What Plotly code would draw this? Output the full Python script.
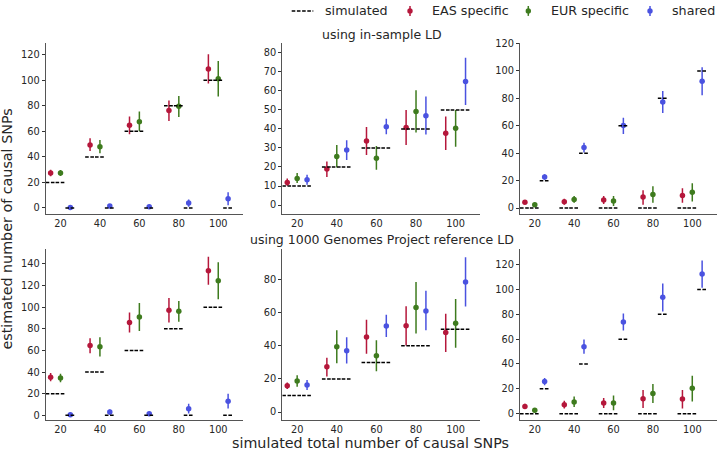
import plotly.graph_objects as go

# ---------------- data ----------------
totals = [20, 40, 60, 80, 100]
xtick_vals = [20, 40, 60, 80, 100]

# simulated truth per column (EAS specific, EUR specific, shared)
sim_c1_eas = [20, 40, 60, 80, 100]
sim_c1_eur = [20, 40, 60, 80, 100]
sim_c1_shared = [0, 0, 0, 0, 0]
sim_c2_eas = [10, 20, 30, 40, 50]
sim_c2_eur = [10, 20, 30, 40, 50]
sim_c2_shared = [10, 20, 30, 40, 50]
sim_c3_eas = [0, 0, 0, 0, 0]
sim_c3_eur = [0, 0, 0, 0, 0]
sim_c3_shared = [20, 40, 60, 80, 100]

# using in-sample LD
ins1_eas = [27.4, 49.3, 64.8, 76.4, 108.9]
ins1_eas_lo = [24.8, 44.6, 57.8, 68.1, 97.5]
ins1_eas_hi = [30.0, 54.5, 71.7, 84.1, 120.3]
ins1_eur = [27.4, 48.0, 67.6, 79.7, 101.2]
ins1_eur_lo = [25.0, 42.8, 60.1, 71.2, 87.2]
ins1_eur_hi = [29.8, 53.2, 75.6, 87.7, 115.1]
ins1_sh = [0.3, 1.5, 1.0, 3.9, 7.2]
ins1_sh_lo = [-1.2, -0.2, -0.5, 1.0, 2.1]
ins1_sh_hi = [1.8, 3.2, 2.5, 6.7, 12.4]

ins2_eas = [11.9, 19.0, 33.6, 40.7, 37.7]
ins2_eas_lo = [10.2, 14.7, 26.3, 31.5, 28.9]
ins2_eas_hi = [13.9, 22.9, 41.0, 50.0, 46.6]
ins2_eur = [14.0, 25.5, 24.6, 49.2, 40.3]
ins2_eur_lo = [11.6, 19.7, 18.5, 38.1, 30.6]
ins2_eur_hi = [16.8, 31.5, 31.0, 60.4, 50.0]
ins2_sh = [13.3, 28.9, 41.2, 46.9, 64.9]
ins2_sh_lo = [10.7, 23.7, 37.2, 37.1, 52.6]
ins2_sh_hi = [15.9, 34.1, 45.4, 57.0, 77.4]

ins3_eas = [4.3, 4.6, 5.8, 8.0, 9.2]
ins3_eas_lo = [2.9, 2.4, 2.9, 2.4, 3.9]
ins3_eas_hi = [5.8, 6.7, 8.7, 13.0, 14.5]
ins3_eur = [2.4, 6.3, 5.1, 9.9, 11.6]
ins3_eur_lo = [1.0, 3.9, 1.4, 3.9, 4.8]
ins3_eur_hi = [3.9, 8.7, 8.7, 15.9, 18.1]
ins3_sh = [22.7, 44.1, 60.2, 77.3, 92.5]
ins3_sh_lo = [20.7, 40.5, 54.0, 69.4, 82.2]
ins3_sh_hi = [24.6, 47.7, 65.8, 85.3, 102.7]

# using 1000 Genomes Project reference LD
ref1_eas = [35.2, 64.5, 85.9, 97.2, 133.6]
ref1_eas_lo = [31.5, 57.5, 76.7, 85.9, 120.8]
ref1_eas_hi = [39.1, 71.2, 95.1, 108.5, 146.7]
ref1_eur = [34.5, 63.3, 90.8, 96.3, 124.4]
ref1_eur_lo = [30.6, 54.4, 78.0, 86.5, 107.3]
ref1_eur_hi = [38.5, 72.1, 103.9, 105.8, 141.5]
ref1_sh = [0.6, 3.1, 1.5, 6.1, 13.1]
ref1_sh_lo = [-1.2, 0.6, -0.3, 1.8, 6.4]
ref1_sh_hi = [2.4, 5.5, 3.3, 10.7, 19.9]

ref2_eas = [15.9, 27.3, 45.4, 52.1, 48.0]
ref2_eas_lo = [13.9, 21.5, 35.2, 40.2, 36.2]
ref2_eas_hi = [17.9, 32.8, 55.7, 63.9, 59.3]
ref2_eur = [18.7, 39.4, 34.0, 63.1, 53.7]
ref2_eur_lo = [15.3, 29.5, 24.7, 47.4, 38.8]
ref2_eur_hi = [22.3, 49.4, 43.4, 78.6, 68.3]
ref2_sh = [16.3, 37.0, 51.9, 61.1, 78.6]
ref2_sh_lo = [13.3, 29.3, 45.4, 49.4, 63.7]
ref2_sh_hi = [19.3, 45.2, 58.7, 73.2, 93.5]

ref3_eas = [5.8, 7.2, 8.5, 11.9, 11.7]
ref3_eas_lo = [3.7, 4.2, 4.5, 4.5, 4.2]
ref3_eas_hi = [8.0, 10.4, 12.5, 19.1, 19.1]
ref3_eur = [2.7, 9.3, 8.5, 16.2, 20.4]
ref3_eur_lo = [1.1, 5.3, 2.7, 8.5, 9.8]
ref3_eur_hi = [4.2, 13.8, 14.6, 23.9, 30.5]
ref3_sh = [25.8, 53.9, 73.8, 93.7, 112.6]
ref3_sh_lo = [22.8, 48.3, 66.9, 82.3, 101.4]
ref3_sh_hi = [28.7, 59.7, 80.7, 104.9, 123.4]

# ---------------- styling ----------------
W, H = 718, 450
C_EAS = "#b5173b"
C_EUR = "#3e7b1e"
C_SH = "#4a52e0"
FONT = "DejaVu Sans"
TXT = "#262626"
DASH = "3.6px,1.6px"


def px(x):
    return x / W


def py(y):
    return 1 - y / H


col_dom = [(45.7, 242.7), (282.3, 480.2), (520.0, 716.7)]
row_dom = [(38.0, 211.7), (246.7, 420.0)]
y_ranges = [[-5.0, 129.5], [-4.9, 85.4], [-4.6, 120.7],
            [-4.6, 153.8], [-5.0, 98.5], [-5.4, 132.7]]
y_dticks = [20, 10, 20, 20, 20, 20]

panels = [
    ((ins1_eas, ins1_eas_lo, ins1_eas_hi), (ins1_eur, ins1_eur_lo, ins1_eur_hi), (ins1_sh, ins1_sh_lo, ins1_sh_hi),
     (sim_c1_eas, sim_c1_eur, sim_c1_shared)),
    ((ins2_eas, ins2_eas_lo, ins2_eas_hi), (ins2_eur, ins2_eur_lo, ins2_eur_hi), (ins2_sh, ins2_sh_lo, ins2_sh_hi),
     (sim_c2_eas, sim_c2_eur, sim_c2_shared)),
    ((ins3_eas, ins3_eas_lo, ins3_eas_hi), (ins3_eur, ins3_eur_lo, ins3_eur_hi), (ins3_sh, ins3_sh_lo, ins3_sh_hi),
     (sim_c3_eas, sim_c3_eur, sim_c3_shared)),
    ((ref1_eas, ref1_eas_lo, ref1_eas_hi), (ref1_eur, ref1_eur_lo, ref1_eur_hi), (ref1_sh, ref1_sh_lo, ref1_sh_hi),
     (sim_c1_eas, sim_c1_eur, sim_c1_shared)),
    ((ref2_eas, ref2_eas_lo, ref2_eas_hi), (ref2_eur, ref2_eur_lo, ref2_eur_hi), (ref2_sh, ref2_sh_lo, ref2_sh_hi),
     (sim_c2_eas, sim_c2_eur, sim_c2_shared)),
    ((ref3_eas, ref3_eas_lo, ref3_eas_hi), (ref3_eur, ref3_eur_lo, ref3_eur_hi), (ref3_sh, ref3_sh_lo, ref3_sh_hi),
     (sim_c3_eas, sim_c3_eur, sim_c3_shared)),
]

offsets = [-5, 0, 5]
colors = [C_EAS, C_EUR, C_SH]
names = ["EAS specific", "EUR specific", "shared"]

fig = go.Figure()
layout = {}

for i, (eas, eur, sh, sims) in enumerate(panels):
    r, c = divmod(i, 3)
    k = "" if i == 0 else str(i + 1)
    xa, ya = "x" + k, "y" + k
    axis_common = dict(showgrid=False, zeroline=False, showline=True, linecolor="#555555", linewidth=1,
                       tickfont=dict(size=9.8, color=TXT, family=FONT))
    layout["xaxis" + k] = dict(domain=[px(col_dom[c][0]), px(col_dom[c][1])], anchor=ya,
                               range=[12.5, 112.4], tickvals=xtick_vals, ticks="", **axis_common)
    layout["yaxis" + k] = dict(domain=[py(row_dom[r][1]), py(row_dom[r][0])], anchor=xa,
                               range=y_ranges[i], dtick=y_dticks[i], tick0=0,
                               ticks="outside", ticklen=3, tickwidth=1, tickcolor="#333333", **axis_common)
    for j, (est, lo, hi) in enumerate((eas, eur, sh)):
        xs = [t + offsets[j] for t in totals]
        fig.add_trace(go.Scatter(
            x=xs, y=est, mode="markers", xaxis=xa, yaxis=ya, name=names[j], showlegend=False,
            marker=dict(color=colors[j], size=5.5, line=dict(width=0)),
            error_y=dict(type="data", symmetric=False,
                         array=[h - e for h, e in zip(hi, est)],
                         arrayminus=[e - l for e, l in zip(est, lo)],
                         thickness=1.5, width=0, color=colors[j]),
        ))
    for j, sim in enumerate(sims):
        sx, sy = [], []
        for t, v in zip(totals, sim):
            cx = t + offsets[j]
            sx += [cx - 2.5, cx + 2.5, None]
            sy += [v, v, None]
        fig.add_trace(go.Scatter(
            x=sx, y=sy, mode="lines", xaxis=xa, yaxis=ya, name="simulated", showlegend=False,
            line=dict(color="black", width=1.5, dash=DASH),
        ))

# legend drawn along the top
shapes = []
annotations = []
ly = 6.0
shapes.append(dict(type="line", xref="paper", yref="paper", x0=px(291.7), x1=px(313.3), y0=py(ly), y1=py(ly),
                   line=dict(color="black", width=1.5, dash=DASH)))
annotations.append(dict(text="simulated", x=px(322.7), y=py(ly), xref="paper", yref="paper",
                        xanchor="left", yanchor="middle", showarrow=False,
                        font=dict(size=12.7, color=TXT, family=FONT)))
for mx, tx, col, nm in [(410.0, 430.0, C_EAS, "EAS specific"), (528.3, 549.3, C_EUR, "EUR specific"),
                        (650.0, 670.0, C_SH, "shared")]:
    shapes.append(dict(type="line", xref="paper", yref="paper", x0=px(mx), x1=px(mx),
                       y0=py(ly - 5.0), y1=py(ly + 5.0), line=dict(color=col, width=1.5)))
    shapes.append(dict(type="circle", xref="paper", yref="paper", x0=px(mx - 2.7), x1=px(mx + 2.7),
                       y0=py(ly + 2.7), y1=py(ly - 2.7), fillcolor=col, line=dict(width=0)))
    annotations.append(dict(text=nm, x=px(tx), y=py(ly), xref="paper", yref="paper",
                            xanchor="left", yanchor="middle", showarrow=False,
                            font=dict(size=12.7, color=TXT, family=FONT)))

# row titles
annotations.append(dict(text="using in-sample LD", x=px(381.5), y=py(29.7), xref="paper", yref="paper",
                        xanchor="center", yanchor="middle", showarrow=False,
                        font=dict(size=12.5, color=TXT, family=FONT)))
annotations.append(dict(text="using 1000 Genomes Project reference LD", x=px(382.0), y=py(237.5),
                        xref="paper", yref="paper", xanchor="center", yanchor="middle", showarrow=False,
                        font=dict(size=12.5, color=TXT, family=FONT)))
# axis labels
annotations.append(dict(text="simulated total number of causal SNPs", x=px(370.7), y=py(443.0),
                        xref="paper", yref="paper", xanchor="center", yanchor="middle", showarrow=False,
                        font=dict(size=14.3, color=TXT, family=FONT)))
annotations.append(dict(text="estimated number of causal SNPs", x=px(7.0), y=py(227.0),
                        xref="paper", yref="paper", xanchor="center", yanchor="middle", showarrow=False,
                        textangle=-90, font=dict(size=14.3, color=TXT, family=FONT)))

fig.update_layout(
    width=W, height=H, margin=dict(l=0, r=0, t=0, b=0),
    paper_bgcolor="white", plot_bgcolor="white", showlegend=False,
    font=dict(family=FONT, color=TXT),
    shapes=shapes, annotations=annotations, **layout,
)

fig.write_html(
    "out.html",
    config={"displayModeBar": False, "staticPlot": True},
    post_script="document.documentElement.style.margin='0';document.body.style.margin='0';"
                "document.body.style.overflow='hidden';",
)
